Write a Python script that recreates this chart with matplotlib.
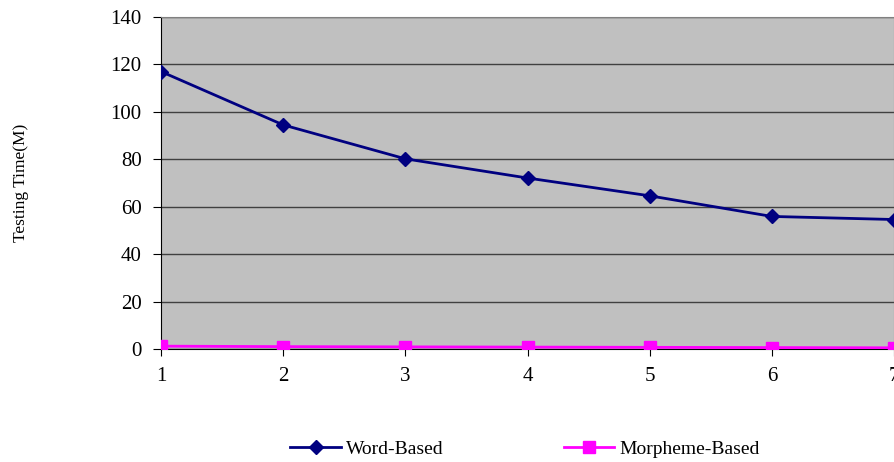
import matplotlib
matplotlib.use("Agg")
import matplotlib.pyplot as plt

runs = [1, 2, 3, 4, 5, 6, 7]
word_based = [117.0, 94.5, 80.2, 72.1, 64.6, 55.9, 54.6]
morpheme_based = [1.2, 1.0, 0.9, 0.8, 0.7, 0.6, 0.5]
y_ticks = [0, 20, 40, 60, 80, 100, 120, 140]

plt.rcParams['font.family'] = ['Liberation Serif', 'DejaVu Serif']

fig = plt.figure(figsize=(8.94, 4.62), dpi=100)
ax = fig.add_axes([161 / 894, 1 - 349 / 462, (894 - 161) / 894, 332 / 462])
ax.set_facecolor('#C0C0C0')

ax.plot(runs, word_based, color='#000080', marker='D', markersize=7, linewidth=2,
        label='Word-Based', zorder=3)
ax.plot(runs, morpheme_based, color='#FF00FF', marker='s', markersize=8, linewidth=2,
        label='Morpheme-Based', zorder=3)

ax.set_xlim(1, 7)
ax.set_ylim(0, 140)
ax.set_xticks(runs)
ax.set_yticks(y_ticks)
ax.yaxis.grid(True, color='#404040', linewidth=1)
ax.set_axisbelow(True)
for s in ['top', 'right']:
    ax.spines[s].set_color('#808080')
ax.spines['left'].set_color('black')
ax.spines['bottom'].set_color('black')
ax.tick_params(axis='y', labelsize=15, length=6, direction='out', pad=8)
ax.tick_params(axis='x', labelsize=15, length=5, direction='out', pad=8)

fig.text(21 / 894, 1 - 183 / 462, 'Testing Time(M)', rotation=90, fontsize=12.5,
         ha='center', va='center')

fig.legend(loc='center', bbox_to_anchor=(525 / 894, 1 - 449 / 462), ncol=2,
           frameon=False, fontsize=14, columnspacing=6.2, handlelength=2.6,
           handletextpad=0.25)

fig.savefig('out.png', dpi=100)
